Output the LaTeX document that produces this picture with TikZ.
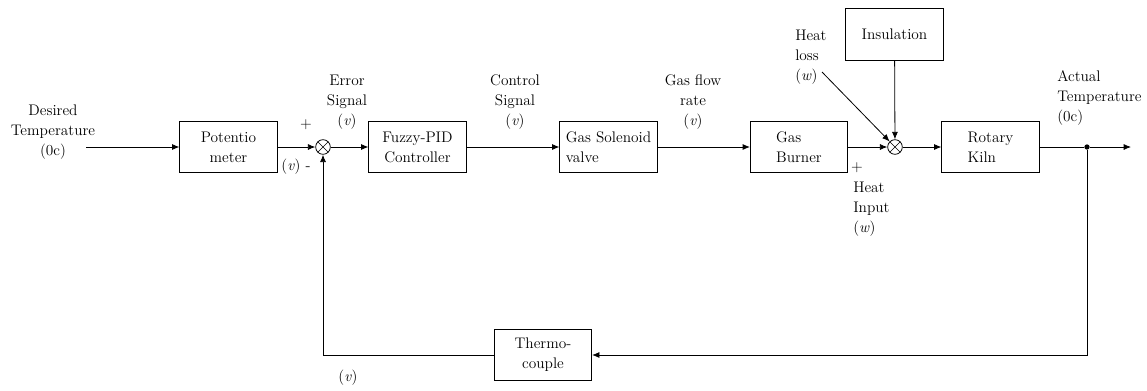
\documentclass[tikz,border=0pt]{standalone}
\usepackage{tikz}
\usetikzlibrary{arrows.meta, positioning, calc}
\tikzstyle{block} = [rectangle, minimum width=73pt, minimum height=38pt, text centered, draw=black, line width=0.6pt, font=\rmfamily\fontsize{11.5}{15}\selectfont, align=center]
\tikzstyle{sum} = [circle, draw=black, line width=0.6pt, minimum size=11pt, inner sep=0pt, path picture={\draw[line width=0.5pt] (path picture bounding box.north west) -- (path picture bounding box.south east) (path picture bounding box.south west) -- (path picture bounding box.north east);}]
\tikzstyle{lbl} = [font=\rmfamily\fontsize{11.5}{15}\selectfont, align=center, inner sep=0pt]
\tikzstyle{arrow} = [line width=0.6pt,-{Latex[length=5.5pt,width=4.5pt]}]
\tikzstyle{line} = [line width=0.6pt]

\begin{document}
\begin{tikzpicture}[x=0.75pt, y=-0.75pt]
\useasboundingbox[fill=white] (0,0) rectangle (1147,390);

% Main flow
\coordinate (in) at (86,147);
\node (pot) [block] at (228.5,147) {Potentio\\meter};
\node (sumerr) [sum] at (323,147) {};
\node (fuzzy) [block] at (417.5,147) {Fuzzy-PID\\Controller};
\node (valve) [block, align=left] at (608.5,147) {Gas Solenoid\\valve};
\node (burner) [block, align=left] at (799,147) {Gas\\Burner};
\node (sumheat) [sum] at (895,147) {};
\node (kiln) [block, align=left] at (990.5,147) {Rotary\\Kiln};
\node (dot) [circle, fill=black, inner sep=1.4pt] at (1087,147) {};
\coordinate (out) at (1131,147);

% Disturbance and feedback
\node (insul) [block, minimum height=39pt] at (894.5,34) {Insulation};
\coordinate (loss) at (822,72);
\node (thermo) [block] at (543,355) {Thermo-\\couple};

% Labels
\node [lbl] at (53,132) {Desired\\Temperature\\(0c)};
\node [lbl] at (347,102) {Error\\Signal\\(\textit{v})};
\node [lbl] at (515,102) {Control\\Signal\\(\textit{v})};
\node [lbl] at (693,102) {Gas flow\\rate\\(\textit{v})};
\node [lbl, anchor=west, align=left] at (795,57) {Heat\\loss\\(\textit{w})};
\node [lbl] at (857,168) {+};
\node [lbl, anchor=west, align=left] at (853,209) {Heat\\Input\\(\textit{w})};
\node [lbl, anchor=west, align=left] at (1057,98) {Actual\\Temperature\\(0c)};
\node [lbl] at (306,125) {+};
\node [lbl] at (296,167) {(\textit{v}) -};
\node [lbl] at (348,378) {(\textit{v})};

% Arrows
\draw [arrow] (in) -- (pot);
\draw [arrow] (pot) -- (sumerr);
\draw [arrow] (sumerr) -- (fuzzy);
\draw [arrow] (fuzzy) -- (valve);
\draw [arrow] (valve) -- (burner);
\draw [arrow] (burner) -- (sumheat);
\draw [arrow] (insul) -- (sumheat);
\draw [arrow] (loss) -- (sumheat);
\draw [arrow] (sumheat) -- (kiln);
\draw [line] (kiln) -- (dot);
\draw [arrow] (dot) -- (out);
\draw [arrow] (dot) |- (thermo);
\draw [arrow] (thermo) -| (sumerr);

\end{tikzpicture}
\end{document}
